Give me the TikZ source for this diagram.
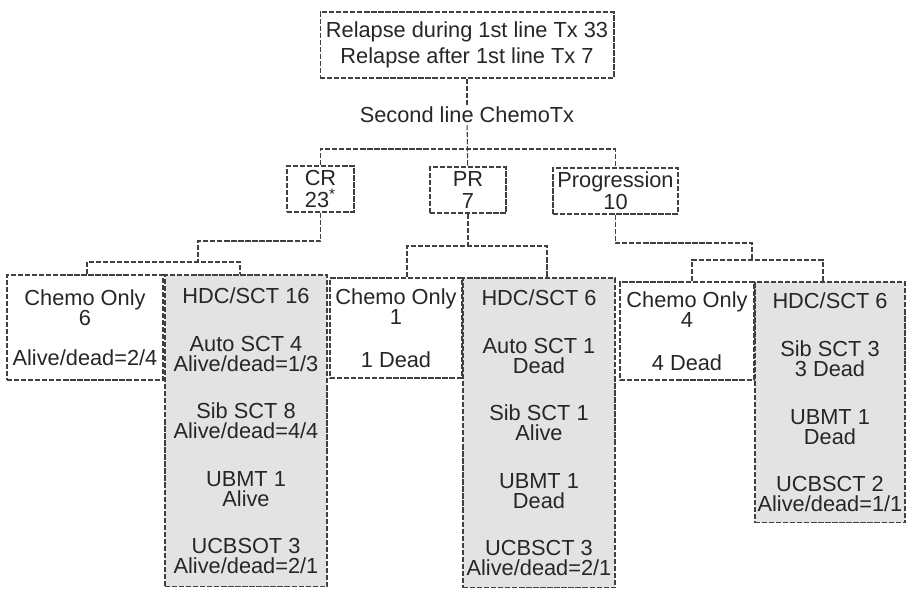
\documentclass[tikz,border=0pt]{standalone}
\usepackage{fontspec}
\setmainfont{Liberation Sans}
\usepackage{tikz}
\usetikzlibrary{positioning}
\newcommand{\boxfont}{\fontsize{12.4}{11.4}\selectfont}
\newcommand{\topfont}{\fontsize{12.4}{14.7}\selectfont}
\newcommand{\midfont}{\fontsize{12.4}{12.5}\selectfont}
\tikzset{
  box/.style={draw=black!75, line width=0.6pt, dash pattern=on 3pt off 1pt,
    inner sep=0pt, align=center, text=black!85, font=\boxfont},
  sctbox/.style={box, fill=black!11},
  link/.style={draw=black!75, line width=0.6pt, dash pattern=on 3pt off 1pt}
}

\begin{document}
\begin{tikzpicture}[x=0.02cm, y=-0.02cm]
  \useasboundingbox (0,0) rectangle (907,590);

  % Relapse and second line therapy
  \node[box, font=\topfont, minimum width=5.88cm, minimum height=1.32cm] (relapse) at (467,45)
    {Relapse during 1st line Tx 33\\Relapse after 1st line Tx 7};
  \node[font=\boxfont, text=black!85, inner sep=1pt] (chemotx) at (467,115) {Second line ChemoTx};

  % Response
  \node[box, font=\midfont, minimum width=1.34cm, minimum height=0.92cm] (cr) at (320.5,189) {CR\\23\textsuperscript{*}};
  \node[box, font=\midfont, minimum width=1.52cm, minimum height=0.92cm] (pr) at (468,190) {PR\\7};
  \node[box, font=\midfont, minimum width=2.5cm, minimum height=0.92cm] (prog) at (615.5,191) {Progression\\10};

  % Treatment after CR
  \node[box, minimum width=3.12cm, minimum height=2.1cm] (chemoA) at (85,327.5)
    {Chemo Only\\6\\[0.4cm]Alive/dead=2/4};
  \node[sctbox, minimum width=3.24cm, minimum height=6.24cm] (hdcA) at (246,431)
    {HDC/SCT 16\\[0.55cm]Auto SCT 4\\Alive/dead=1/3\\[0.55cm]Sib SCT 8\\Alive/dead=4/4\\[0.55cm]UBMT 1\\Alive\\[0.55cm]UCBSOT 3\\Alive/dead=2/1};

  % Treatment after PR
  \node[box, minimum width=2.64cm, minimum height=2cm] (chemoB) at (396,328)
    {Chemo Only\\1\\[0.45cm]1 Dead};
  \node[sctbox, minimum width=3.04cm, minimum height=6.2cm] (hdcB) at (539,433)
    {HDC/SCT 6\\[0.55cm]Auto SCT 1\\Dead\\[0.55cm]Sib SCT 1\\Alive\\[0.55cm]UBMT 1\\Dead\\[0.55cm]UCBSCT 3\\Alive/dead=2/1};

  % Treatment after progression
  \node[box, minimum width=2.68cm, minimum height=1.96cm] (chemoC) at (687,331)
    {Chemo Only\\4\\[0.45cm]4 Dead};
  \node[sctbox, minimum width=3cm, minimum height=4.82cm] (hdcC) at (830,402.5)
    {HDC/SCT 6\\[0.55cm]Sib SCT 3\\3 Dead\\[0.55cm]UBMT 1\\Dead\\[0.55cm]UCBSCT 2\\Alive/dead=1/1};

  % Connectors
  \coordinate (topbus) at (467,149);
  \coordinate (crjog) at (198,241);
  \coordinate (crbus) at (198,262);
  \coordinate (prbus) at (468,246);
  \coordinate (progjog) at (752,243);
  \coordinate (progbus) at (752,260);

  \draw[link] (relapse) -- (chemotx);
  \draw[link] (chemotx) -- (pr);
  \draw[link] (cr.north) |- (topbus) -| (prog.north);

  \draw[link] (cr.south) |- (crjog) -- (crbus);
  \draw[link] ([xshift=0.04cm]chemoA.north) |- (crbus) -| ([xshift=-0.12cm]hdcA.north);

  \draw[link] (pr.south) -- (prbus);
  \draw[link] ([xshift=0.22cm]chemoB.north) |- (prbus) -| ([xshift=0.16cm]hdcB.north);

  \draw[link] (prog.south) |- (progjog) -- (progbus);
  \draw[link] ([xshift=0.1cm]chemoC.north) |- (progbus) -| ([xshift=-0.14cm]hdcC.north);
\end{tikzpicture}
\end{document}
